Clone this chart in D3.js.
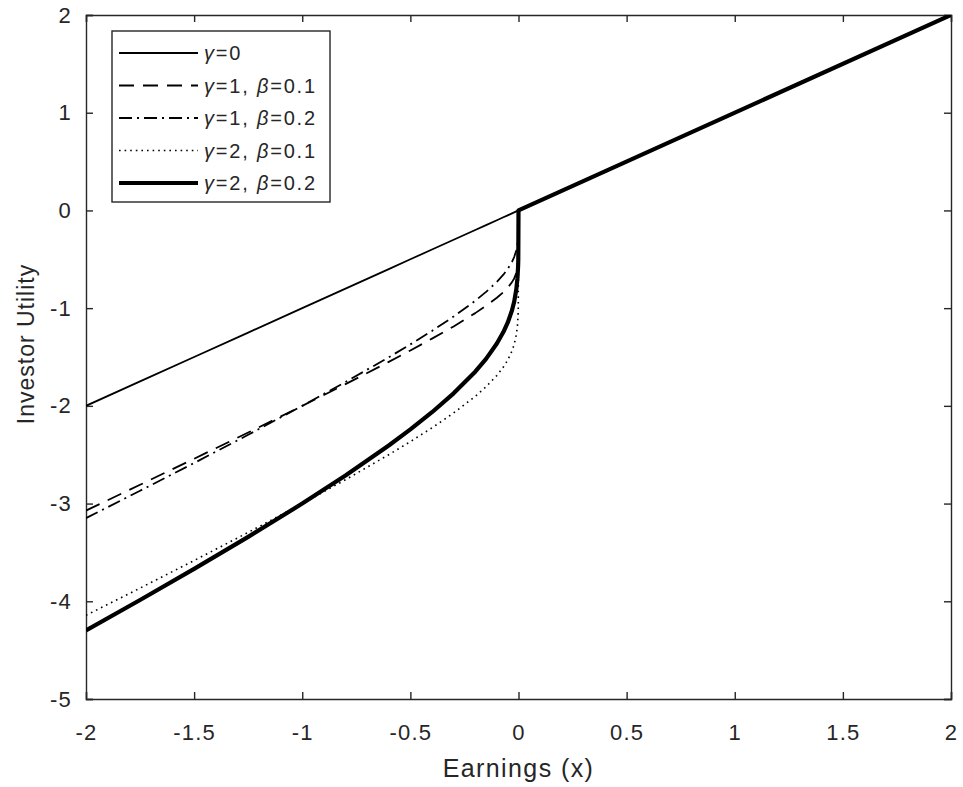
<!DOCTYPE html>
<html>
<head>
<meta charset="utf-8">
<script src="https://cdn.jsdelivr.net/npm/d3@7"></script>
<style>
  body { margin: 0; background: #fff; }
  svg { font-family: "Liberation Sans", Arial, sans-serif; }
</style>
</head>
<body>
<div id="chart"></div>
<script>
// Earnings values where each curve was read (x < 0 part, then x >= 0)
var earnings = [-2, -1.75, -1.5, -1.25, -1, -0.8, -0.6, -0.5, -0.4, -0.3, -0.2, -0.15,
    -0.1, -0.07, -0.05, -0.03, -0.02, -0.01, -0.005, -0.002, -0.001, 0, 2];

// Investor utility, one list per curve
var gamma0 = [-2, -1.75, -1.5, -1.25, -1, -0.8, -0.6, -0.5, -0.4, -0.3, -0.2, -0.15,
    -0.1, -0.07, -0.05, -0.03, -0.02, -0.01, -0.005, -0.002, -0.001, 0, 2];
var gamma1beta01 = [-3.072, -2.808, -2.541, -2.273, -2.0, -1.778, -1.550, -1.433, -1.312, -1.187, -1.051, -0.977,
    -0.894, -0.837, -0.791, -0.734, -0.696, -0.641, -0.594, -0.539, -0.502, 0, 2];
var gamma1beta02 = [-3.149, -2.869, -2.585, -2.296, -2.0, -1.756, -1.503, -1.371, -1.233, -1.086, -0.925, -0.834,
    -0.731, -0.658, -0.599, -0.526, -0.477, -0.408, -0.352, -0.291, -0.252, 0, 2];
var gamma2beta01 = [-4.144, -3.865, -3.583, -3.295, -3.0, -2.756, -2.500, -2.366, -2.225, -2.073, -1.903, -1.804,
    -1.689, -1.603, -1.532, -1.438, -1.372, -1.272, -1.182, -1.076, -1.003, 0, 2];
var gamma2beta02 = [-4.297, -3.987, -3.669, -3.341, -3.0, -2.713, -2.406, -2.241, -2.065, -1.872, -1.650, -1.519,
    -1.362, -1.245, -1.149, -1.022, -0.935, -0.806, -0.698, -0.579, -0.503, 0, 2];

var xTicks = [-2, -1.5, -1, -0.5, 0, 0.5, 1, 1.5, 2];
var yTicks = [-5, -4, -3, -2, -1, 0, 1, 2];

// Legend entries: gamma, beta (null when absent)
var legendGamma = ["0", "1", "1", "2", "2"];
var legendBeta = [null, "0.1", "0.2", "0.1", "0.2"];

var width = 963, height = 787;
var margin = {left: 86, right: 12, top: 15, bottom: 88};
var w = width - margin.left - margin.right;
var h = height - margin.top - margin.bottom;

var svg = d3.select("#chart").append("svg")
    .attr("width", width)
    .attr("height", height);

var chart = svg.append("g")
    .attr("transform", "translate(" + margin.left + "," + margin.top + ")");

var x = d3.scaleLinear().domain([-2, 2]).range([0, w]);
var y = d3.scaleLinear().domain([-5, 2]).range([h, 0]);

var axisColor = "#262626";

// plain hyphen for negatives, like the original figure
var plain = function (d) { return String(d); };

// Axes with inward ticks on all four sides (box on)
var xAxisB = d3.axisBottom(x).tickValues(xTicks).tickSize(-7).tickPadding(25).tickFormat(plain);
var yAxisL = d3.axisLeft(y).tickValues(yTicks).tickSize(-7).tickPadding(14).tickFormat(plain);
var xAxisT = d3.axisTop(x).tickValues(xTicks).tickSize(-7).tickFormat("");
var yAxisR = d3.axisRight(y).tickValues(yTicks).tickSize(-7).tickFormat("");

function styleAxis(g) {
    g.selectAll("path, line").attr("stroke", axisColor).attr("stroke-width", 1.4);
    g.selectAll("text")
        .attr("fill", axisColor)
        .style("font-size", "22px")
        .style("letter-spacing", "1.2px");
}

chart.append("g").attr("transform", "translate(0," + h + ")").call(xAxisB).call(styleAxis);
chart.append("g").call(yAxisL).call(styleAxis);
chart.append("g").call(xAxisT).call(styleAxis);
chart.append("g").attr("transform", "translate(" + w + ",0)").call(yAxisR).call(styleAxis);

// Axis labels
svg.append("text")
    .attr("x", margin.left + w / 2)
    .attr("y", 777)
    .attr("text-anchor", "middle")
    .attr("fill", axisColor)
    .style("font-size", "25px")
    .style("letter-spacing", "1.4px")
    .text("Earnings (x)");

svg.append("text")
    .attr("transform", "translate(34,344) rotate(-90)")
    .attr("text-anchor", "middle")
    .attr("fill", axisColor)
    .style("font-size", "23px")
    .style("letter-spacing", "1px")
    .text("Investor Utility");

// Series definitions
var series = [
    {values: gamma0, width: 1.8, dash: null},
    {values: gamma1beta01, width: 1.8, dash: "15,9"},
    {values: gamma1beta02, width: 1.8, dash: "13,5,2,5"},
    {values: gamma2beta01, width: 1.6, dash: "1.6,4"},
    {values: gamma2beta02, width: 4.2, dash: null}
];

var line = d3.line()
    .x(function (d) { return x(d[0]); })
    .y(function (d) { return y(d[1]); });

chart.append("clipPath").attr("id", "clip")
    .append("rect").attr("width", w).attr("height", h);

var lines = chart.append("g").attr("clip-path", "url(#clip)");

series.forEach(function (s) {
    var pts = earnings.map(function (e, i) { return [e, s.values[i]]; });
    lines.append("path")
        .datum(pts)
        .attr("d", line)
        .attr("fill", "none")
        .attr("stroke", "#000")
        .attr("stroke-width", s.width)
        .attr("stroke-dasharray", s.dash)
        .attr("stroke-linejoin", "round");
});

// Legend
var legend = svg.append("g").attr("transform", "translate(112,31)");
legend.append("rect")
    .attr("width", 218)
    .attr("height", 171)
    .attr("fill", "#fff")
    .attr("stroke", axisColor)
    .attr("stroke-width", 1.4);

var rows = legend.selectAll("g.row")
    .data(series)
    .enter()
    .append("g")
    .attr("class", "row")
    .attr("transform", function (d, i) { return "translate(0," + (22 + i * 32.5) + ")"; });

rows.append("line")
    .attr("x1", 7).attr("x2", 86)
    .attr("stroke", "#000")
    .attr("stroke-width", function (d) { return d.width; })
    .attr("stroke-dasharray", function (d) { return d.dash; });

var labels = rows.append("text")
    .attr("x", 92)
    .attr("dy", "0.35em")
    .attr("fill", axisColor)
    .style("font-size", "20px")
    .style("letter-spacing", "1.8px");

labels.each(function (d, i) {
    var t = d3.select(this);
    t.append("tspan").style("font-style", "italic").text("\u03b3");
    t.append("tspan").text("=" + legendGamma[i]);
    if (legendBeta[i] !== null) {
        t.append("tspan").text(", ");
        t.append("tspan").style("font-style", "italic").text("\u03b2");
        t.append("tspan").text("=" + legendBeta[i]);
    }
});
</script>
</body>
</html>
